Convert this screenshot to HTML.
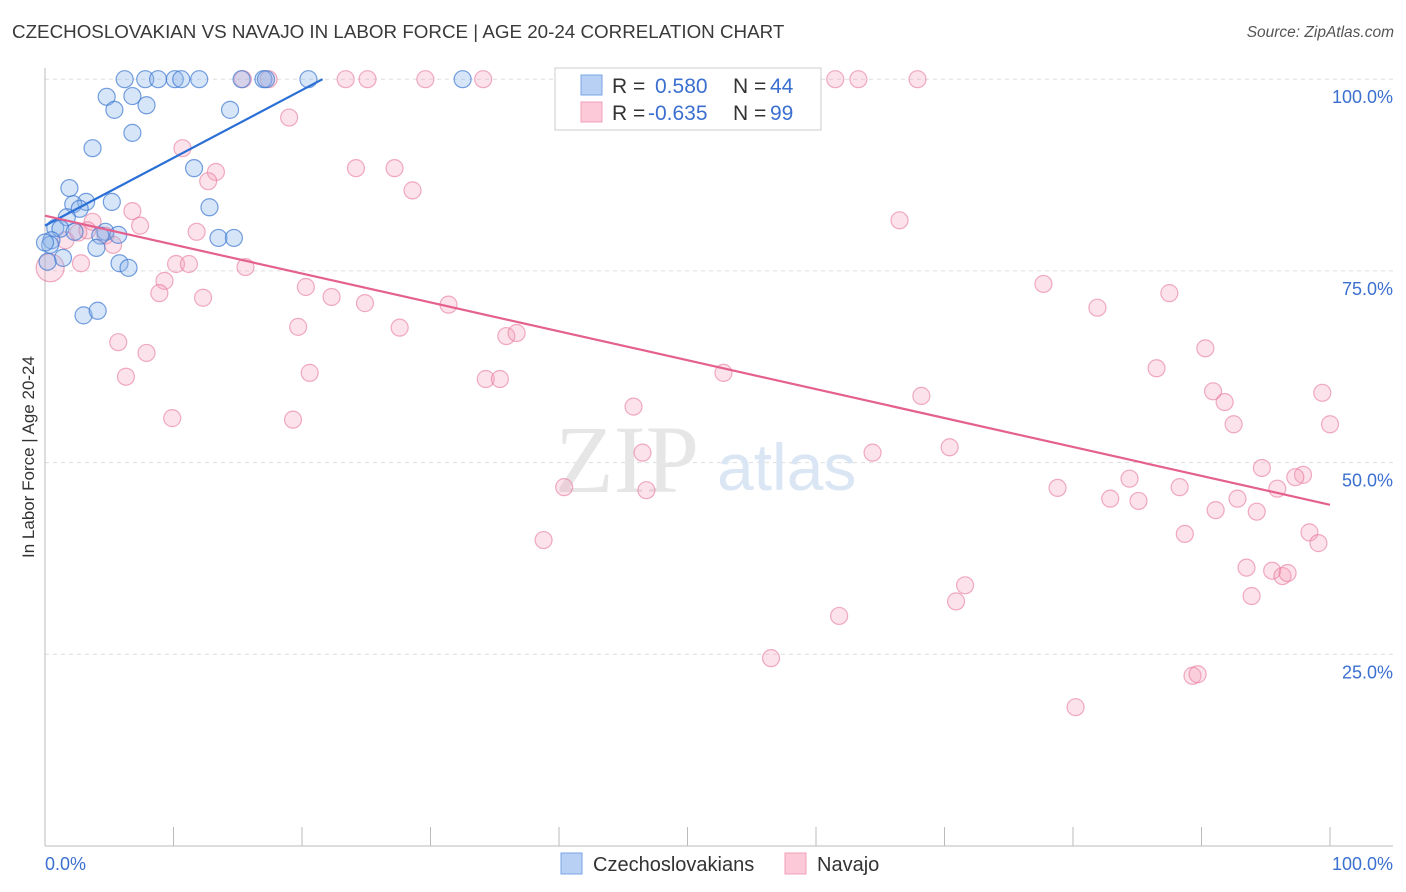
<!DOCTYPE html>
<html><head><meta charset="utf-8"><style>
body{margin:0;background:#fff;font-family:"Liberation Sans",sans-serif}
#wrap{position:relative;width:1406px;height:892px}
.t{position:absolute;white-space:nowrap}
</style></head><body>
<div id="wrap">
<div class="t" style="left:12px;top:21px;font-size:18.8px;color:#3a3a3a">CZECHOSLOVAKIAN VS NAVAJO IN LABOR FORCE | AGE 20-24 CORRELATION CHART</div>
<div class="t" style="right:12px;top:24px;font-size:15.5px;color:#555;font-style:italic">Source: ZipAtlas.com</div>
<svg id="svg" width="1406" height="892" style="position:absolute;left:0;top:0"></svg>
</div>
<script>
const blueX=[6.2,7.8,8.8,10.1,10.6,12.0,15.3,17.0,17.2,20.5,32.5,4.8,6.8,5.4,7.9,14.4,6.8,3.7,11.6,1.9,12.8,5.2,3.2,2.2,2.7,1.7,0.8,1.2,4.7,5.7,4.3,0.5,13.5,14.7,4.0,1.4,5.8,6.5,3.0,4.1,0.2,0.4,0,2.3];
const blueY=[100,100,100,100,100,100,100,100,100,100,100,97.7,97.8,96,96.6,96,93,91,88.4,85.8,83.3,84,84,83.7,83.1,82,80.6,80.5,80.1,79.7,79.6,79,79.3,79.3,78,76.7,76,75.4,69.2,69.8,76.2,78.4,78.7,80.1];
const pinkX=[15.4,17.4,23.4,25.1,29.6,34.1,53,61.5,63.3,67.9,19,10.7,24.2,27.2,13.3,12.7,28.6,66.5,6.8,7.4,3.7,11.8,1.6,4.7,5.3,2.8,10.2,11.2,15.6,9.3,8.9,12.3,20.3,22.3,24.9,31.4,77.7,81.9,87.5,19.7,27.6,35.9,36.7,5.7,7.9,90.3,6.3,20.6,34.3,35.4,52.8,86.5,90.9,91.8,68.2,99.4,9.9,19.3,45.8,92.5,100,46.5,64.4,70.4,94.7,97.9,97.3,84.4,95.9,78.8,88.3,40.4,46.8,82.9,85.1,92.8,91.1,94.3,38.8,88.7,98.4,99.1,93.5,95.5,96.3,96.7,71.6,70.9,93.9,61.8,56.5,89.3,89.7,80.2,2.6,3.3,0.4];
const pinkY=[100,100,100,100,100,100,100,100,100,100,95,91,88.4,88.4,87.9,86.7,85.5,81.6,82.8,80.9,81.4,80.1,79,79.6,78.4,76,75.9,75.9,75.5,73.7,72.1,71.5,72.9,71.6,70.8,70.6,73.3,70.2,72.1,67.7,67.6,66.5,66.9,65.7,64.3,64.9,61.2,61.7,60.9,60.9,61.7,62.3,59.3,57.9,58.7,59.1,55.8,55.6,57.3,55,55,51.3,51.3,52,49.3,48.4,48.1,47.9,46.6,46.7,46.8,46.8,46.4,45.3,45,45.3,43.8,43.6,39.9,40.7,40.9,39.5,36.3,35.9,35.2,35.6,34,31.9,32.6,30,24.5,22.2,22.4,18.1,80,80.3,75.4];
const blueTrend=[0,80.9,21.6,100];
const pinkTrend=[0,82.2,100,44.5];
const yTicks=[100,75,50,25];
const yTickLabels=["100.0%","75.0%","50.0%","25.0%"];
const xTickCount=10;

const X=v=>45+v*12.85, Y=v=>846-v*7.668;
const svg=document.getElementById('svg'),NS='http://www.w3.org/2000/svg';
function mk(t,a,name){const e=document.createElementNS(NS,t);for(const k in a)e.setAttribute(k,a[k]);


svg.appendChild(e);return e;}
yTicks.forEach((v,i)=>{mk('line',{x1:45,x2:1393,y1:Y(v),y2:Y(v),stroke:'#ddd','stroke-dasharray':'4,4'},'gridline');
const t=mk('text',{x:1393,y:Y(v)+24,'text-anchor':'end','font-size':18,fill:'#3b6fd0','font-family':'Liberation Sans'},'y-tick-label');t.textContent=yTickLabels[i];});
mk('line',{x1:45,x2:45,y1:68,y2:846,stroke:'#bbb'},'y-axis');
mk('line',{x1:45,x2:1393,y1:846,y2:846,stroke:'#bbb'},'x-axis');
for(let i=0;i<=xTickCount;i++){mk('line',{x1:X(i*10),x2:X(i*10),y1:827,y2:846,stroke:'#bbb'},'x-tick');}
let t=mk('text',{x:45,y:870,'font-size':18,fill:'#3b6fd0'},'x-min-label');t.textContent='0.0%';
t=mk('text',{x:1393,y:870,'text-anchor':'end','font-size':18,fill:'#3b6fd0'},'x-max-label');t.textContent='100.0%';
t=mk('text',{x:0,y:0,transform:'translate(34,457) rotate(-90)','text-anchor':'middle','font-size':17,fill:'#333'},'y-axis-title');t.textContent='In Labor Force | Age 20-24';
t=mk('text',{x:555,y:492,'font-size':96,fill:'#e6e6e6','font-family':'Liberation Serif'},'watermark-zip');t.textContent='ZIP';
t=mk('text',{x:717,y:490,'font-size':66,fill:'#dbe6f5'},'watermark-atlas');t.textContent='atlas';
pinkX.forEach((v,i)=>mk('circle',{cx:X(v),cy:Y(pinkY[i]),r:i==pinkX.length-1?14:8.5,fill:'rgba(244,160,185,0.3)',stroke:'rgba(230,120,155,0.6)','stroke-width':1.2},'navajo-point'));
blueX.forEach((v,i)=>mk('circle',{cx:X(v),cy:Y(blueY[i]),r:8.5,fill:'rgba(140,180,235,0.35)',stroke:'rgba(60,120,210,0.7)','stroke-width':1.2},'czech-point'));
mk('line',{x1:X(blueTrend[0]),y1:Y(blueTrend[1]),x2:X(blueTrend[2]),y2:Y(blueTrend[3]),stroke:'#2a6fd6','stroke-width':2.2},'czech-trendline');
mk('line',{x1:X(pinkTrend[0]),y1:Y(pinkTrend[1]),x2:X(pinkTrend[2]),y2:Y(pinkTrend[3]),stroke:'#e4608f','stroke-width':2.2},'navajo-trendline');
mk('rect',{x:555,y:68,width:266,height:62,fill:'#fff',stroke:'#ccc'},'legend-box');
mk('rect',{x:581,y:75,width:21,height:20,fill:'#b7d0f3',stroke:'#7aa5e6'},'legend-swatch-czech');
mk('rect',{x:581,y:102,width:21,height:20,fill:'#fbc9d7',stroke:'#f0a0b8'},'legend-swatch-navajo');
function lt(x,y,s,c,n,fs){const e=mk('text',{x:x,y:y,'font-size':fs||21,fill:c},n);e.textContent=s;}
lt(612,93,'R =','#333','legend-r-label');lt(655,93,'0.580','#3b6fd0','legend-r-czech');lt(733,93,'N =','#333','legend-n-label');lt(770,93,'44','#3b6fd0','legend-n-czech');
lt(612,120,'R =','#333','legend-r-label');lt(648,120,'-0.635','#3b6fd0','legend-r-navajo');lt(733,120,'N =','#333','legend-n-label');lt(770,120,'99','#3b6fd0','legend-n-navajo');
mk('rect',{x:561,y:853,width:21,height:21,fill:'#b7d0f3',stroke:'#7aa5e6'},'bottom-legend-swatch-czech');
lt(593,871,'Czechoslovakians','#333','bottom-legend-czech',20);
mk('rect',{x:785,y:853,width:21,height:21,fill:'#fbc9d7',stroke:'#f0a0b8'},'bottom-legend-swatch-navajo');
lt(817,871,'Navajo','#333','bottom-legend-navajo',20);
</script>
</body></html>
